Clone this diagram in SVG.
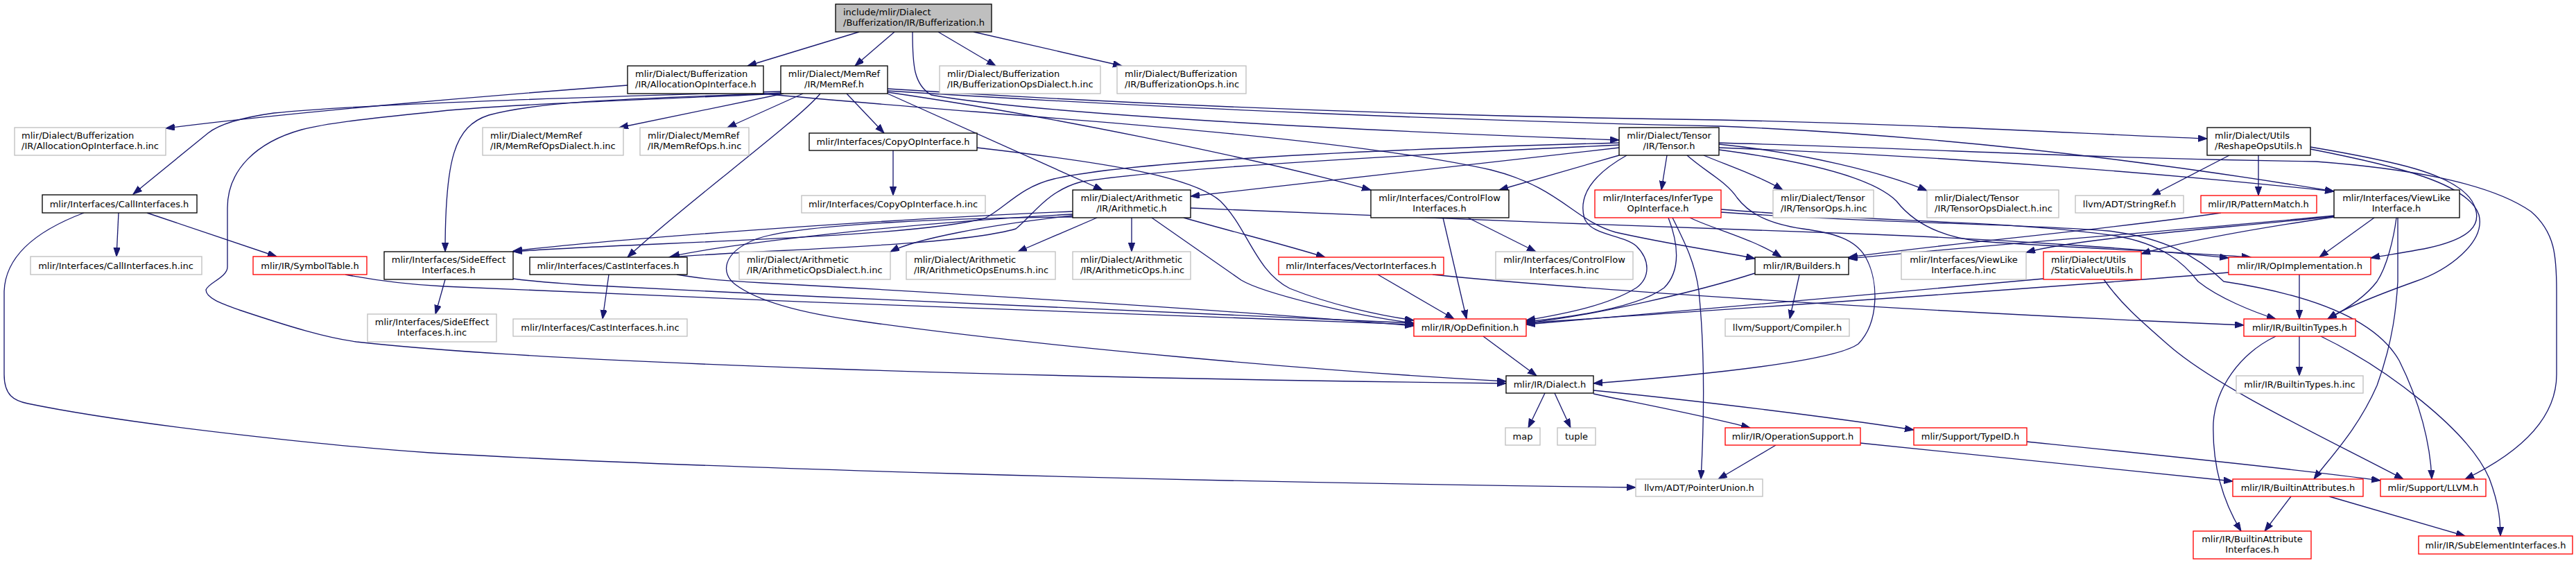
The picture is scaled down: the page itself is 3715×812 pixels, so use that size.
<svg xmlns="http://www.w3.org/2000/svg" width="3715" height="812" viewBox="0 0 3715 812">
<style>
.node rect{fill:#fff;stroke-width:1.33}
.b rect{stroke:#000}
.g rect{stroke:#bfbfbf}
.r rect{stroke:#ff0000}
.root rect{fill:#bfbfbf;stroke:#000}
text{font-family:"DejaVu Sans","Liberation Sans",sans-serif;font-size:13px;fill:#000}
.m{text-anchor:middle}
#edges path{fill:none;stroke:#191970;stroke-width:1.33;marker-end:url(#ah)}
</style>
<defs>
<marker id="ah" markerUnits="userSpaceOnUse" markerWidth="15" markerHeight="11" refX="13" refY="4.7" orient="auto"><path d="M0,0L13,4.7L0,9.4Z" fill="#191970" stroke="#191970" stroke-width="1"/></marker>
</defs>
<rect width="3715" height="812" fill="#fff"/>
<g id="edges">
<path d="M1239,46 L1078,95"/>
<path d="M1290,46 L1233,95"/>
<path d="M1353,46 L1436,95"/>
<path d="M1404,46 L1618,95"/>
<path d="M1316,46 C1316,95 1318,122 1343,137 C1500,165 1950,188 2335,202"/>
<path d="M905,123 C700,138 420,162 239,185"/>
<path d="M1101,135 C1400,165 1900,190 2150,245 C2250,270 2270,318 2330,335 C2420,355 2480,362 2531,373"/>
<path d="M1126,132 C850,140 520,150 395,163 C345,170 315,180 300,192 L192,280"/>
<path d="M1126,134 C950,142 790,143 705,166 C655,182 642,230 642,363"/>
<path d="M1126,135 C900,145 700,152 620,162 C520,172 470,178 435,187 C370,205 328,245 328,300 L328,385 C328,400 300,408 297,418 C297,430 320,438 345,447 C420,472 470,487 514,493 C800,525 1500,545 2172,553"/>
<path d="M1130,135 L893,184"/>
<path d="M1158,135 L1049,184"/>
<path d="M1183,135 C1150,175 980,300 905,371"/>
<path d="M1221,135 L1275,192"/>
<path d="M1280,135 L1590,274"/>
<path d="M1280,128 C1700,155 2100,168 2480,173 C2800,180 3000,193 3183,200"/>
<path d="M1280,131 C1700,158 2150,175 2480,182 C2800,195 3100,232 3366,276"/>
<path d="M1280,133 C1500,165 1800,225 1977,274"/>
<path d="M2335,213 C2150,235 1950,258 1717,283"/>
<path d="M2335,206 C2100,212 1650,228 1520,258 C1470,270 1450,300 1420,315 C1300,345 900,350 740,363"/>
<path d="M2335,209 C2100,220 1700,240 1560,262 C1510,275 1490,310 1465,330 C1380,355 1100,360 965,371"/>
<path d="M2335,224 L2162,274"/>
<path d="M2404,224 L2396,274"/>
<path d="M2346,224 C2300,250 2275,280 2285,315 C2295,340 2340,338 2360,355 C2380,375 2380,400 2360,415 C2320,440 2260,452 2201,462"/>
<path d="M2433,224 C2460,248 2490,262 2505,285 C2520,305 2545,322 2600,330 C2645,336 2675,345 2690,370 C2710,405 2710,465 2680,496 C2640,525 2400,545 2298,553"/>
<path d="M2457,224 C2490,238 2540,255 2571,274"/>
<path d="M2479,208 C2600,220 2720,250 2779,275"/>
<path d="M2479,213 C2800,225 3100,248 3366,276"/>
<path d="M2479,206 C2800,215 3000,228 3340,233 C3500,245 3600,270 3650,305 C3685,335 3687,370 3687,420 L3687,540 C3687,600 3640,650 3555,691"/>
<path d="M2479,216 C2600,232 2700,255 2735,290 C2760,322 2800,342 2856,348 C2960,356 3120,362 3246,371"/>
<path d="M1547,305 C1300,315 900,343 740,362"/>
<path d="M1547,309 C1300,322 1050,352 967,370"/>
<path d="M1547,311 C1420,325 1320,345 1284,363"/>
<path d="M1582,314 L1468,363"/>
<path d="M1632,314 L1632,363"/>
<path d="M1547,313 C1400,314 1150,322 1090,345 C1040,365 1040,395 1060,410 C1100,440 1180,455 1240,463 C1500,500 1900,535 2172,550"/>
<path d="M1661,314 L1790,404 C1820,422 1950,455 2039,466"/>
<path d="M1707,314 C1780,335 1850,352 1911,371"/>
<path d="M1717,300 C2000,312 2400,328 2700,338 C2900,346 3100,360 3214,372"/>
<path d="M171,307 L168,370"/>
<path d="M212,307 L399,370"/>
<path d="M121,307 C60,330 8,365 6,420 L6,540 C6,570 20,578 40,582 C200,615 500,645 620,653 C1000,675 1700,695 2359,703"/>
<path d="M498,396 C540,404 580,410 640,413 C1100,435 1700,455 2039,468"/>
<path d="M642,403 L628,453"/>
<path d="M740,402 C780,407 820,410 880,413 C1300,435 1800,455 2039,466"/>
<path d="M878,396 L869,460"/>
<path d="M976,396 C1010,402 1040,405 1100,408 C1500,430 1800,450 2039,470"/>
<path d="M1288,217 L1288,282"/>
<path d="M1409,213 C1600,235 1720,255 1760,290 C1800,330 1810,390 1860,416 C1920,440 1990,455 2039,462"/>
<path d="M2081,314 L2115,460"/>
<path d="M2117,314 L2215,363"/>
<path d="M1987,396 L2097,460"/>
<path d="M2066,396 C2200,410 2600,440 3100,463 C3150,465 3200,467 3236,469"/>
<path d="M2437,314 C2470,330 2530,345 2569,371"/>
<path d="M2406,314 C2420,350 2425,390 2400,415 C2360,445 2260,458 2201,464"/>
<path d="M2412,314 C2430,350 2445,380 2450,420 C2458,500 2458,600 2453,691"/>
<path d="M2482,302 C2700,320 2900,318 3050,340 C3120,352 3150,380 3170,406 C3200,430 3250,450 3282,460"/>
<path d="M2482,306 C2700,322 2900,322 3040,333 C3120,342 3170,370 3207,406 C3300,420 3420,450 3460,520 C3490,580 3505,640 3507,691"/>
<path d="M3215,224 L3103,282"/>
<path d="M3257,224 L3257,282"/>
<path d="M3332,212 C3450,232 3540,250 3565,290 C3585,325 3560,345 3500,358 C3470,364 3440,368 3419,372"/>
<path d="M3332,215 C3460,240 3560,265 3575,310 C3585,350 3530,390 3483,406 C3430,425 3380,445 3357,460"/>
<path d="M3203,307 C3050,330 2800,352 2666,371"/>
<path d="M3366,311 C3150,332 2900,350 2666,373"/>
<path d="M3366,312 C3200,330 3000,343 2922,364"/>
<path d="M3366,313 C3250,330 3150,348 3088,366"/>
<path d="M3424,314 L3345,371"/>
<path d="M3456,314 C3452,345 3442,385 3428,406 C3410,430 3380,448 3357,460"/>
<path d="M3458,314 L3458,406 C3456,440 3452,490 3428,556 C3400,620 3360,660 3337,691"/>
<path d="M2595,396 L2581,460"/>
<path d="M2531,394 C2450,420 2300,455 2201,466"/>
<path d="M2947,402 C2700,425 2400,450 2201,468"/>
<path d="M3034,403 C3060,440 3090,465 3130,500 C3200,560 3350,630 3466,691"/>
<path d="M3214,393 C2900,420 2500,445 2201,466"/>
<path d="M3316,396 L3316,460"/>
<path d="M2139,485 L2216,542"/>
<path d="M2228,567 L2204,617"/>
<path d="M2242,567 L2265,617"/>
<path d="M2298,568 C2380,585 2460,600 2524,617"/>
<path d="M2298,563 C2450,578 2650,603 2760,620"/>
<path d="M2561,642 L2478,691"/>
<path d="M2683,639 C2900,660 3100,683 3220,694"/>
<path d="M2923,637 C3100,655 3300,675 3433,693"/>
<path d="M3316,485 L3316,542"/>
<path d="M3282,485 C3230,510 3195,560 3192,610 C3190,680 3210,730 3232,766"/>
<path d="M3347,485 C3440,530 3560,620 3590,690 C3605,730 3606,755 3606,773"/>
<path d="M3304,716 L3266,766"/>
<path d="M3359,716 L3555,773"/>
</g>
<g id="n_root" class="node root"><rect x="1205" y="6" width="225" height="40"/><text x="1216" y="22">include/mlir/Dialect</text><text x="1216" y="37">/Bufferization/IR/Bufferization.h</text></g>
<g id="n_allocopiface" class="node b"><rect x="905" y="95" width="196" height="40"/><text x="916" y="111">mlir/Dialect/Bufferization</text><text x="916" y="126">/IR/AllocationOpInterface.h</text></g>
<g id="n_memref" class="node b"><rect x="1126" y="95" width="154" height="40"/><text class="m" x="1203" y="111">mlir/Dialect/MemRef</text><text class="m" x="1203" y="126">/IR/MemRef.h</text></g>
<g id="n_bufopsdialectinc" class="node g"><rect x="1355" y="95" width="232" height="40"/><text x="1366" y="111">mlir/Dialect/Bufferization</text><text x="1366" y="126">/IR/BufferizationOpsDialect.h.inc</text></g>
<g id="n_bufopsinc" class="node g"><rect x="1611" y="95" width="186" height="40"/><text x="1622" y="111">mlir/Dialect/Bufferization</text><text x="1622" y="126">/IR/BufferizationOps.h.inc</text></g>
<g id="n_allocopifaceinc" class="node g"><rect x="21" y="184" width="218" height="40"/><text x="31" y="200">mlir/Dialect/Bufferization</text><text x="31" y="215">/IR/AllocationOpInterface.h.inc</text></g>
<g id="n_memrefopsdialectinc" class="node g"><rect x="696" y="184" width="203" height="40"/><text x="707" y="200">mlir/Dialect/MemRef</text><text x="707" y="215">/IR/MemRefOpsDialect.h.inc</text></g>
<g id="n_memrefopsinc" class="node g"><rect x="923" y="184" width="157" height="40"/><text x="934" y="200">mlir/Dialect/MemRef</text><text x="934" y="215">/IR/MemRefOps.h.inc</text></g>
<g id="n_copyopiface" class="node b"><rect x="1167" y="192" width="242" height="25"/><text class="m" x="1288" y="209">mlir/Interfaces/CopyOpInterface.h</text></g>
<g id="n_tensor" class="node b"><rect x="2335" y="184" width="144" height="40"/><text class="m" x="2407" y="200">mlir/Dialect/Tensor</text><text class="m" x="2407" y="215">/IR/Tensor.h</text></g>
<g id="n_reshapeopsutils" class="node b"><rect x="3183" y="184" width="149" height="40"/><text x="3194" y="200">mlir/Dialect/Utils</text><text x="3194" y="215">/ReshapeOpsUtils.h</text></g>
<g id="n_callifaces" class="node b"><rect x="61" y="281" width="223" height="26"/><text class="m" x="172" y="298.5">mlir/Interfaces/CallInterfaces.h</text></g>
<g id="n_copyopifaceinc" class="node g"><rect x="1156" y="282" width="265" height="25"/><text class="m" x="1288" y="299">mlir/Interfaces/CopyOpInterface.h.inc</text></g>
<g id="n_arithmetic" class="node b"><rect x="1547" y="274" width="170" height="40"/><text class="m" x="1632" y="290">mlir/Dialect/Arithmetic</text><text class="m" x="1632" y="305">/IR/Arithmetic.h</text></g>
<g id="n_controlflow" class="node b"><rect x="1977" y="274" width="199" height="40"/><text class="m" x="2076" y="290">mlir/Interfaces/ControlFlow</text><text class="m" x="2076" y="305">Interfaces.h</text></g>
<g id="n_infertype" class="node r"><rect x="2300" y="274" width="182" height="40"/><text class="m" x="2391" y="290">mlir/Interfaces/InferType</text><text class="m" x="2391" y="305">OpInterface.h</text></g>
<g id="n_tensoropsinc" class="node g"><rect x="2557" y="274" width="145" height="40"/><text x="2568" y="290">mlir/Dialect/Tensor</text><text x="2568" y="305">/IR/TensorOps.h.inc</text></g>
<g id="n_tensoropsdialectinc" class="node g"><rect x="2779" y="274" width="190" height="40"/><text x="2790" y="290">mlir/Dialect/Tensor</text><text x="2790" y="305">/IR/TensorOpsDialect.h.inc</text></g>
<g id="n_stringref" class="node g"><rect x="2993" y="282" width="156" height="25"/><text class="m" x="3071" y="299">llvm/ADT/StringRef.h</text></g>
<g id="n_patternmatch" class="node r"><rect x="3174" y="282" width="167" height="25"/><text class="m" x="3257" y="299">mlir/IR/PatternMatch.h</text></g>
<g id="n_viewlike" class="node b"><rect x="3366" y="274" width="181" height="40"/><text class="m" x="3456" y="290">mlir/Interfaces/ViewLike</text><text class="m" x="3456" y="305">Interface.h</text></g>
<g id="n_callifacesinc" class="node g"><rect x="44" y="370" width="247" height="26"/><text class="m" x="167" y="387.5">mlir/Interfaces/CallInterfaces.h.inc</text></g>
<g id="n_symboltable" class="node r"><rect x="365" y="370" width="164" height="26"/><text class="m" x="447" y="387.5">mlir/IR/SymbolTable.h</text></g>
<g id="n_sideeffect" class="node b"><rect x="554" y="363" width="186" height="40"/><text class="m" x="647" y="379">mlir/Interfaces/SideEffect</text><text class="m" x="647" y="394">Interfaces.h</text></g>
<g id="n_castifaces" class="node b"><rect x="764" y="371" width="227" height="25"/><text class="m" x="877" y="388">mlir/Interfaces/CastInterfaces.h</text></g>
<g id="n_arithopsdialectinc" class="node g"><rect x="1066" y="363" width="218" height="40"/><text x="1077" y="379">mlir/Dialect/Arithmetic</text><text x="1077" y="394">/IR/ArithmeticOpsDialect.h.inc</text></g>
<g id="n_arithopsenumsinc" class="node g"><rect x="1307" y="363" width="215" height="40"/><text x="1318" y="379">mlir/Dialect/Arithmetic</text><text x="1318" y="394">/IR/ArithmeticOpsEnums.h.inc</text></g>
<g id="n_arithopsinc" class="node g"><rect x="1547" y="363" width="170" height="40"/><text x="1558" y="379">mlir/Dialect/Arithmetic</text><text x="1558" y="394">/IR/ArithmeticOps.h.inc</text></g>
<g id="n_vectorifaces" class="node r"><rect x="1844" y="371" width="238" height="25"/><text class="m" x="1963" y="388">mlir/Interfaces/VectorInterfaces.h</text></g>
<g id="n_controlflowinc" class="node g"><rect x="2157" y="363" width="198" height="40"/><text class="m" x="2256" y="379">mlir/Interfaces/ControlFlow</text><text class="m" x="2256" y="394">Interfaces.h.inc</text></g>
<g id="n_builders" class="node b"><rect x="2531" y="371" width="135" height="25"/><text class="m" x="2598.5" y="388">mlir/IR/Builders.h</text></g>
<g id="n_viewlikeinc" class="node g"><rect x="2742" y="363" width="180" height="40"/><text class="m" x="2832" y="379">mlir/Interfaces/ViewLike</text><text class="m" x="2832" y="394">Interface.h.inc</text></g>
<g id="n_staticvalueutils" class="node r"><rect x="2947" y="363" width="141" height="40"/><text x="2958" y="379">mlir/Dialect/Utils</text><text x="2958" y="394">/StaticValueUtils.h</text></g>
<g id="n_opimplementation" class="node r"><rect x="3214" y="371" width="205" height="25"/><text class="m" x="3316.5" y="388">mlir/IR/OpImplementation.h</text></g>
<g id="n_sideeffectinc" class="node g"><rect x="530" y="453" width="186" height="40"/><text class="m" x="623" y="469">mlir/Interfaces/SideEffect</text><text class="m" x="623" y="484">Interfaces.h.inc</text></g>
<g id="n_castifacesinc" class="node g"><rect x="740" y="460" width="251" height="25"/><text class="m" x="865.5" y="477">mlir/Interfaces/CastInterfaces.h.inc</text></g>
<g id="n_opdefinition" class="node r"><rect x="2039" y="460" width="162" height="25"/><text class="m" x="2120" y="477">mlir/IR/OpDefinition.h</text></g>
<g id="n_compiler" class="node g"><rect x="2488" y="460" width="179" height="25"/><text class="m" x="2577.5" y="477">llvm/Support/Compiler.h</text></g>
<g id="n_builtintypes" class="node r"><rect x="3236" y="460" width="161" height="25"/><text class="m" x="3316.5" y="477">mlir/IR/BuiltinTypes.h</text></g>
<g id="n_dialect" class="node b"><rect x="2172" y="542" width="126" height="25"/><text class="m" x="2235" y="559">mlir/IR/Dialect.h</text></g>
<g id="n_builtintypesinc" class="node g"><rect x="3225" y="542" width="183" height="25"/><text class="m" x="3316.5" y="559">mlir/IR/BuiltinTypes.h.inc</text></g>
<g id="n_map" class="node g"><rect x="2171" y="617" width="50" height="25"/><text class="m" x="2196" y="634">map</text></g>
<g id="n_tuple" class="node g"><rect x="2246" y="617" width="55" height="25"/><text class="m" x="2273.5" y="634">tuple</text></g>
<g id="n_operationsupport" class="node r"><rect x="2488" y="617" width="195" height="25"/><text class="m" x="2585.5" y="634">mlir/IR/OperationSupport.h</text></g>
<g id="n_typeid" class="node r"><rect x="2760" y="617" width="163" height="25"/><text class="m" x="2841.5" y="634">mlir/Support/TypeID.h</text></g>
<g id="n_pointerunion" class="node g"><rect x="2359" y="691" width="183" height="25"/><text class="m" x="2450.5" y="708">llvm/ADT/PointerUnion.h</text></g>
<g id="n_builtinattributes" class="node r"><rect x="3220" y="691" width="188" height="25"/><text class="m" x="3314" y="708">mlir/IR/BuiltinAttributes.h</text></g>
<g id="n_llvm" class="node r"><rect x="3433" y="691" width="152" height="25"/><text class="m" x="3509" y="708">mlir/Support/LLVM.h</text></g>
<g id="n_builtinattrifaces" class="node r"><rect x="3163" y="766" width="170" height="40"/><text class="m" x="3248" y="782">mlir/IR/BuiltinAttribute</text><text class="m" x="3248" y="797">Interfaces.h</text></g>
<g id="n_subelementifaces" class="node r"><rect x="3488" y="773" width="222" height="26"/><text class="m" x="3599" y="790.5">mlir/IR/SubElementInterfaces.h</text></g>
</svg>
